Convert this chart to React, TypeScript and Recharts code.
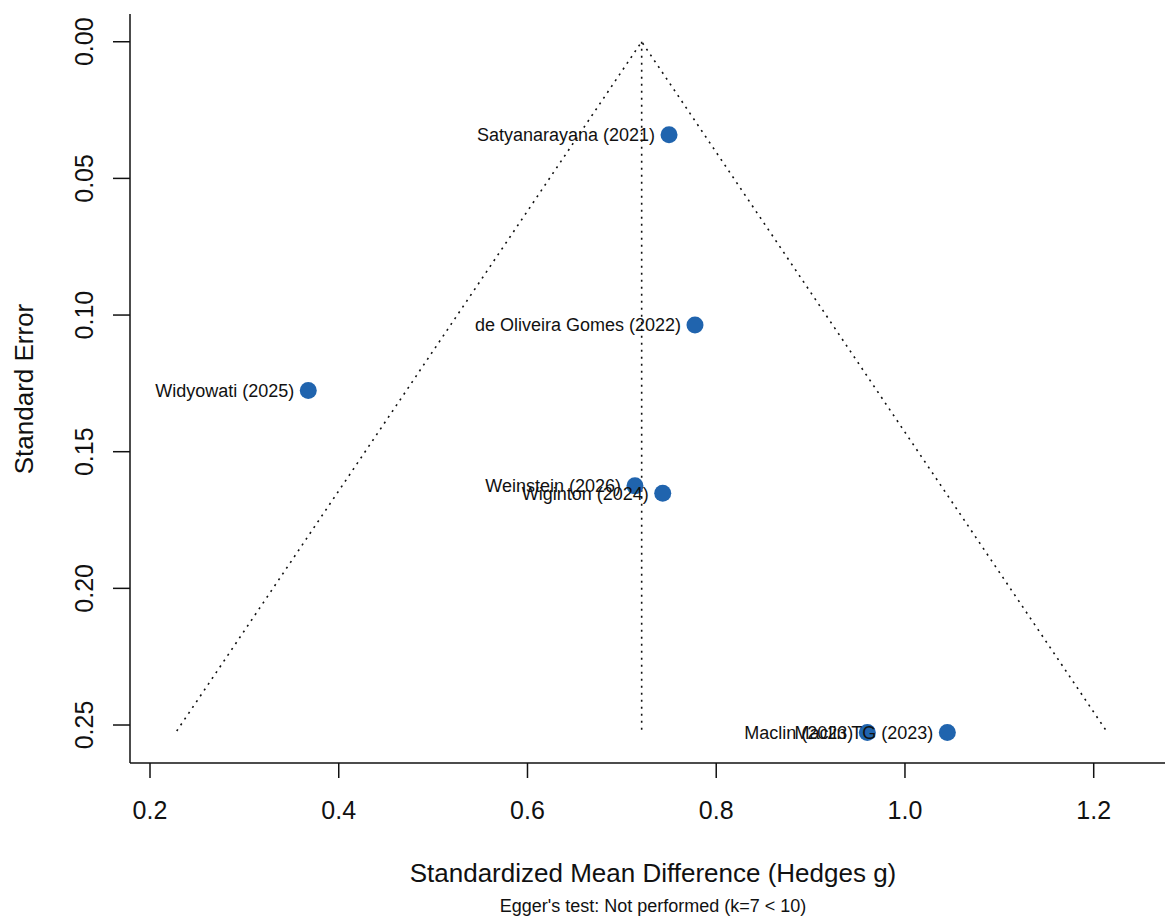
import React from 'react';
import { ScatterChart, Scatter, XAxis, YAxis } from 'recharts';

// studies
const studies = [
  'Satyanarayana (2021)',
  'de Oliveira Gomes (2022)',
  'Widyowati (2025)',
  'Weinstein (2026)',
  'Wiginton (2024)',
  'Maclin (2023)',
  'Maclin TG (2023)',
];
const hedgesG = [0.75, 0.7775, 0.3677, 0.7139, 0.7433, 0.9601, 1.0449];
const stdErr = [0.034, 0.1036, 0.1276, 0.1625, 0.1652, 0.2527, 0.2527];

// pooled estimate + funnel limits
const pooled = [0.721];
const funnelX = [0.2283, 0.721, 1.2135];
const funnelSE = [0.2522, 0, 0.2522];
const centerSE = [0, 0.2535];

const xTicks = [0.2, 0.4, 0.6, 0.8, 1.0, 1.2];
const yTicks = [0, 0.05, 0.1, 0.15, 0.2, 0.25];
const xDomain: [number, number] = [0.1788, 1.2872];
const yDomain: [number, number] = [-0.01015, 0.2639];

const DOT = '#2064ae';
const INK = '#111';
const FONT = '"Liberation Sans", Arial, Helvetica, sans-serif';

const points = studies.map((name, i) => ({ name, x: hedgesG[i], y: stdErr[i] }));
const funnel = funnelX.map((x, i) => ({ x, y: funnelSE[i] }));
const center = centerSE.map((y) => ({ x: pooled[0], y }));

function XTick(props: any) {
  const { x, y, payload } = props;
  return (
    <text x={x} y={y + 39} textAnchor="middle" fontSize={25} fill={INK} fontFamily={FONT}>
      {Number(payload.value).toFixed(1)}
    </text>
  );
}

function YTick(props: any) {
  const { x, y, payload } = props;
  const tx = x - 18;
  return (
    <text
      x={tx}
      y={y}
      transform={`rotate(-90, ${tx}, ${y})`}
      textAnchor="middle"
      fontSize={25}
      fill={INK}
      fontFamily={FONT}
    >
      {Number(payload.value).toFixed(2)}
    </text>
  );
}

const Dot = (p: any) => <circle cx={p.cx} cy={p.cy} r={8.5} fill={DOT} />;
const Nothing = () => <g />;
const StudyLabel = (p: any) => (
  <text
    x={p.cx - 14}
    y={p.cy}
    dy="0.35em"
    textAnchor="end"
    fontSize={18}
    fill={INK}
    fontFamily={FONT}
  >
    {p.payload.name}
  </text>
);

export default function App() {
  return (
    <div
      style={{
        position: 'absolute', left: 0, top: 0, width: 1165, height: 916,
        overflow: 'hidden', background: '#fff', fontFamily: FONT,
      }}
    >
      <ScatterChart width={1180} height={916} margin={{ top: 14, right: 4, bottom: 0, left: 0 }}>
        <XAxis
          xAxisId="top"
          orientation="top"
          type="number"
          dataKey="x"
          domain={xDomain}
          height={0}
          tick={false}
          tickLine={false}
          axisLine={{ stroke: INK, strokeWidth: 1.5 }}
          allowDataOverflow
        />
        <XAxis
          type="number"
          dataKey="x"
          domain={xDomain}
          ticks={xTicks}
          height={153}
          tickSize={15}
          tick={<XTick />}
          axisLine={{ stroke: INK, strokeWidth: 1.5 }}
          tickLine={{ stroke: INK, strokeWidth: 1.5 }}
          allowDataOverflow
        />
        <YAxis
          type="number"
          dataKey="y"
          domain={yDomain}
          ticks={yTicks}
          reversed
          width={130}
          tickSize={17}
          tick={<YTick />}
          axisLine={{ stroke: INK, strokeWidth: 1.5 }}
          tickLine={{ stroke: INK, strokeWidth: 1.5 }}
          allowDataOverflow
        />
        <Scatter
          data={funnel}
          shape={Nothing}
          line={{ stroke: INK, strokeWidth: 1.6, strokeDasharray: '2 5' }}
          isAnimationActive={false}
        />
        <Scatter
          data={center}
          shape={Nothing}
          line={{ stroke: INK, strokeWidth: 1.6, strokeDasharray: '2 5' }}
          isAnimationActive={false}
        />
        <Scatter data={points} shape={Dot} isAnimationActive={false} />
        <Scatter data={points} shape={StudyLabel} isAnimationActive={false} />
      </ScatterChart>

      <div style={{ position: 'absolute', left: 24, top: 389, width: 0, height: 0 }}>
        <div
          style={{
            position: 'absolute', left: 0, top: 0, whiteSpace: 'nowrap',
            fontSize: 26, color: INK, lineHeight: '26px',
            transform: 'translate(-50%, -50%) rotate(-90deg)',
          }}
        >
          Standard Error
        </div>
      </div>
      <div
        style={{
          position: 'absolute', left: 130, width: 1046, top: 857,
          textAlign: 'center', fontSize: 26, color: INK, lineHeight: '32px',
        }}
      >
        Standardized Mean Difference (Hedges g)
      </div>
      <div
        style={{
          position: 'absolute', left: 130, width: 1046, top: 895,
          textAlign: 'center', fontSize: 18, color: INK, lineHeight: '22px',
        }}
      >
        Egger's test: Not performed (k=7 &lt; 10)
      </div>
    </div>
  );
}
